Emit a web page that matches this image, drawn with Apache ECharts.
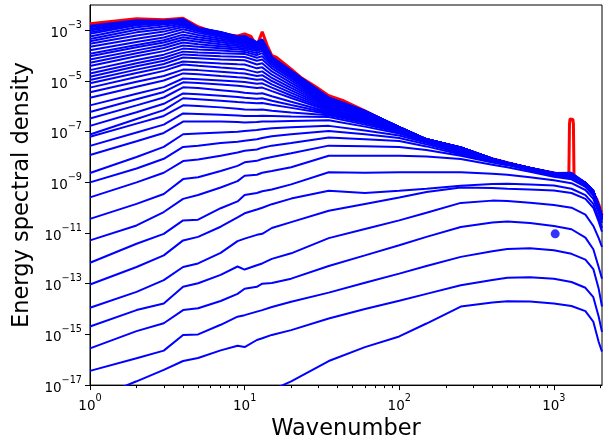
<!DOCTYPE html>
<html><head><meta charset="utf-8">
<script src="https://cdn.jsdelivr.net/npm/echarts@6/dist/echarts.min.js"></script>
<style>html,body{margin:0;padding:0;background:#fff}#c{width:610px;height:446px}</style>
</head><body><div id="c"></div>
<script>
// Wavenumbers at which each blue spectrum is sampled
const wavenumbers = [1, 2, 3, 4, 5, 7, 9, 10, 12, 13, 15, 20, 35, 60, 100, 150, 250, 400, 500, 700, 1000, 1300, 1600, 1800, 1950, 2048];
// log10(energy spectral density), one array per output time (earliest first)
const spec01 = [-20.0, -19.3, -18.9, -18.4, -18.3, -18.0, -17.75, -17.65, -17.45, -17.35, -17.2, -16.85, -16.05, -15.5, -15.08, -14.57, -13.9, -13.74, -13.69, -13.7, -13.78, -13.88, -14.08, -14.5, -15.3, -15.68];
const spec02 = [-17.6, -16.85, -16.4, -16.05, -15.93, -15.63, -15.45, -15.5, -15.22, -15.15, -15.02, -14.83, -14.37, -14.0, -13.67, -13.4, -13.06, -12.85, -12.76, -12.74, -12.8, -12.93, -13.16, -13.53, -14.3, -14.9];
const spec03 = [-16.44, -15.94, -15.64, -15.02, -15.0, -14.62, -14.3, -14.24, -14.1, -14.04, -13.92, -13.71, -13.35, -12.96, -12.6, -12.3, -11.94, -11.72, -11.63, -11.6, -11.68, -11.82, -12.05, -12.42, -13.2, -13.9];
const spec04 = [-15.55, -14.87, -14.56, -14.04, -13.97, -13.68, -13.4, -13.2, -13.12, -13.0, -12.97, -12.8, -12.3, -11.88, -11.48, -11.15, -10.76, -10.58, -10.54, -10.6, -10.72, -10.85, -11.18, -11.64, -12.35, -12.8];
const spec05 = [-14.69, -14.04, -13.78, -13.12, -12.98, -12.65, -12.32, -12.44, -12.27, -12.2, -12.02, -11.8, -11.2, -10.84, -10.5, -10.2, -9.81, -9.72, -9.73, -9.8, -9.89, -10.0, -10.27, -10.72, -11.2, -11.55];
const spec06 = [-13.95, -13.32, -12.86, -12.34, -12.2, -11.78, -11.32, -11.22, -11.07, -11.03, -10.8, -10.57, -10.12, -9.85, -9.6, -9.38, -9.2, -9.22, -9.25, -9.28, -9.32, -9.42, -9.65, -10.0, -10.55, -10.95];
const spec07 = [-13.03, -12.34, -11.88, -11.29, -11.15, -10.75, -10.38, -10.22, -10.07, -10.0, -9.86, -9.64, -9.33, -9.42, -9.33, -9.25, -9.13, -9.06, -9.05, -9.08, -9.12, -9.25, -9.5, -9.85, -10.4, -10.8];
const spec08 = [-12.17, -11.42, -11.03, -10.5, -10.47, -10.02, -9.75, -9.5, -9.42, -9.35, -9.28, -9.08, -8.6, -8.62, -8.6, -8.6, -8.6, -8.66, -8.7, -8.8, -8.92, -9.03, -9.3, -9.65, -10.2, -10.6];
const spec09 = [-11.29, -10.7, -10.17, -9.65, -9.5, -9.2, -8.95, -8.74, -8.7, -8.62, -8.55, -8.4, -7.95, -7.95, -7.95, -7.98, -8.08, -8.3, -8.4, -8.58, -8.78, -8.88, -9.18, -9.52, -10.1, -10.5];
const spec10 = [-10.44, -9.85, -9.46, -8.87, -8.8, -8.55, -8.35, -8.21, -8.15, -8.08, -8.0, -7.85, -7.55, -7.57, -7.6, -7.72, -7.95, -8.22, -8.32, -8.52, -8.74, -8.84, -9.14, -9.48, -10.06, -10.47];
const spec11 = [-9.59, -9.0, -8.62, -8.16, -8.1, -7.95, -7.82, -7.75, -7.7, -7.63, -7.55, -7.45, -7.23, -7.3, -7.37, -7.58, -7.9, -8.19, -8.3, -8.5, -8.72, -8.82, -9.12, -9.46, -10.04, -10.45];
const spec12 = [-9.0, -8.45, -8.07, -7.6, -7.55, -7.45, -7.4, -7.36, -7.3, -7.25, -7.18, -7.1, -6.97, -7.1, -7.25, -7.5, -7.85, -8.17, -8.29, -8.49, -8.71, -8.81, -9.11, -9.45, -10.03, -10.44];
const spec13 = [-8.63, -8.0, -7.6, -7.1, -7.07, -7.03, -7.0, -6.97, -6.93, -6.9, -6.86, -6.82, -6.77, -6.95, -7.15, -7.44, -7.8, -8.15, -8.28, -8.48, -8.7, -8.8, -9.1, -9.44, -10.02, -10.43];
const spec14 = [-7.92, -7.38, -7.05, -6.6, -6.6, -6.6, -6.62, -6.64, -6.62, -6.6, -6.6, -6.58, -6.55, -6.8, -7.07, -7.4, -7.76, -8.13, -8.27, -8.47, -8.7, -8.79, -9.09, -9.43, -10.01, -10.42];
const spec15 = [-7.56, -7.03, -6.72, -6.28, -6.3, -6.33, -6.36, -6.38, -6.38, -6.37, -6.38, -6.4, -6.42, -6.72, -7.02, -7.37, -7.73, -8.12, -8.26, -8.47, -8.69, -8.78, -9.08, -9.42, -10.0, -10.41];
const spec16 = [-7.2, -6.68, -6.38, -5.96, -5.99, -6.04, -6.09, -6.12, -6.13, -6.12, -6.17, -6.24, -6.35, -6.66, -6.98, -7.35, -7.71, -8.11, -8.25, -8.46, -8.69, -8.77, -9.07, -9.41, -9.99, -10.4];
const spec17 = [-7.11, -6.5, -6.15, -5.68, -5.72, -5.78, -5.83, -5.85, -5.88, -5.87, -5.94, -6.06, -6.3, -6.62, -6.95, -7.34, -7.7, -8.1, -8.25, -8.46, -8.68, -8.77, -9.07, -9.41, -9.98, -10.4];
const spec18 = [-6.77, -6.23, -5.9, -5.49, -5.52, -5.58, -5.63, -5.66, -5.7, -5.68, -5.78, -5.95, -6.26, -6.58, -6.93, -7.33, -7.69, -8.1, -8.24, -8.45, -8.68, -8.76, -9.06, -9.4, -9.98, -10.39];
const spec19 = [-6.48, -5.96, -5.65, -5.25, -5.28, -5.36, -5.42, -5.46, -5.5, -5.48, -5.6, -5.82, -6.22, -6.54, -6.91, -7.32, -7.68, -8.09, -8.24, -8.45, -8.67, -8.76, -9.06, -9.4, -9.97, -10.39];
const spec20 = [-6.22, -5.72, -5.43, -5.05, -5.08, -5.14, -5.19, -5.22, -5.28, -5.26, -5.4, -5.67, -6.18, -6.5, -6.9, -7.32, -7.67, -8.09, -8.23, -8.45, -8.67, -8.75, -9.05, -9.39, -9.97, -10.38];
const spec21 = [-5.96, -5.5, -5.24, -4.9, -4.93, -4.98, -5.02, -5.04, -5.11, -5.09, -5.26, -5.57, -6.14, -6.46, -6.89, -7.31, -7.67, -8.09, -8.23, -8.44, -8.66, -8.75, -9.05, -9.39, -9.96, -10.38];
const spec22 = [-5.66, -5.23, -4.98, -4.7, -4.73, -4.8, -4.85, -4.87, -4.95, -4.93, -5.13, -5.47, -6.1, -6.42, -6.88, -7.31, -7.66, -8.08, -8.23, -8.44, -8.66, -8.74, -9.04, -9.38, -9.96, -10.38];
const spec23 = [-5.44, -5.03, -4.8, -4.55, -4.57, -4.63, -4.68, -4.7, -4.8, -4.77, -5.0, -5.37, -6.06, -6.38, -6.87, -7.31, -7.66, -8.08, -8.22, -8.44, -8.66, -8.74, -9.04, -9.38, -9.95, -10.37];
const spec24 = [-5.26, -4.84, -4.6, -4.35, -4.4, -4.47, -4.52, -4.54, -4.66, -4.62, -4.88, -5.27, -6.02, -6.35, -6.86, -7.3, -7.65, -8.08, -8.22, -8.44, -8.65, -8.73, -9.03, -9.37, -9.95, -10.37];
const spec25 = [-5.09, -4.68, -4.46, -4.23, -4.26, -4.31, -4.34, -4.35, -4.5, -4.46, -4.75, -5.17, -5.98, -6.32, -6.85, -7.3, -7.65, -8.08, -8.22, -8.44, -8.65, -8.73, -9.03, -9.37, -9.95, -10.37];
const spec26 = [-4.96, -4.55, -4.33, -4.07, -4.1, -4.15, -4.17, -4.18, -4.35, -4.3, -4.62, -5.07, -5.95, -6.3, -6.85, -7.3, -7.65, -8.08, -8.22, -8.44, -8.65, -8.73, -9.03, -9.37, -9.95, -10.37];
const spec27 = [-4.83, -4.42, -4.2, -3.95, -3.98, -4.02, -4.04, -4.05, -4.2, -4.15, -4.5, -4.98, -5.92, -6.28, -6.84, -7.3, -7.64, -8.08, -8.22, -8.44, -8.65, -8.72, -9.03, -9.37, -9.94, -10.37];
const spec28 = [-4.7, -4.3, -4.08, -3.84, -3.87, -3.9, -3.92, -3.93, -4.08, -4.02, -4.4, -4.9, -5.89, -6.26, -6.84, -7.3, -7.64, -8.08, -8.22, -8.43, -8.65, -8.72, -9.02, -9.36, -9.94, -10.37];
const spec29 = [-4.57, -4.17, -3.96, -3.72, -3.76, -3.8, -3.84, -3.85, -3.98, -3.9, -4.32, -4.84, -5.86, -6.25, -6.84, -7.3, -7.64, -8.08, -8.22, -8.43, -8.64, -8.72, -9.02, -9.36, -9.94, -10.36];
const spec30 = [-4.41, -4.02, -3.82, -3.6, -3.65, -3.71, -3.76, -3.78, -3.9, -3.8, -4.25, -4.78, -5.83, -6.24, -6.83, -7.3, -7.63, -8.08, -8.22, -8.43, -8.64, -8.72, -9.02, -9.36, -9.94, -10.36];
const spec31 = [-4.28, -3.9, -3.7, -3.48, -3.55, -3.63, -3.69, -3.72, -3.82, -3.72, -4.2, -4.73, -5.8, -6.23, -6.83, -7.3, -7.63, -8.08, -8.22, -8.43, -8.64, -8.71, -9.02, -9.36, -9.94, -10.36];
const spec32 = [-4.15, -3.79, -3.59, -3.37, -3.45, -3.55, -3.62, -3.66, -3.76, -3.66, -4.16, -4.7, -5.78, -6.22, -6.83, -7.3, -7.63, -8.07, -8.22, -8.43, -8.64, -8.71, -9.02, -9.36, -9.94, -10.36];
const spec33 = [-4.02, -3.67, -3.48, -3.27, -3.36, -3.47, -3.56, -3.6, -3.7, -3.6, -4.14, -4.68, -5.76, -6.21, -6.83, -7.3, -7.63, -8.07, -8.22, -8.43, -8.64, -8.71, -9.02, -9.35, -9.93, -10.36];
const spec34 = [-3.92, -3.58, -3.39, -3.17, -3.27, -3.4, -3.5, -3.55, -3.66, -3.55, -4.13, -4.67, -5.74, -6.21, -6.82, -7.3, -7.63, -8.07, -8.22, -8.43, -8.64, -8.71, -9.02, -9.35, -9.93, -10.36];
const spec35 = [-3.79, -3.46, -3.28, -3.06, -3.18, -3.33, -3.46, -3.5, -3.62, -3.51, -4.12, -4.67, -5.72, -6.2, -6.82, -7.3, -7.62, -8.07, -8.22, -8.43, -8.64, -8.7, -9.02, -9.35, -9.93, -10.36];
const spec36 = [-3.65, -3.33, -3.16, -2.96, -3.1, -3.26, -3.42, -3.46, -3.59, -3.48, -4.11, -4.66, -5.71, -6.2, -6.82, -7.3, -7.62, -8.07, -8.22, -8.43, -8.63, -8.7, -9.02, -9.35, -9.93, -10.36];
const spec37 = [-3.53, -3.2, -3.05, -2.87, -3.04, -3.21, -3.39, -3.42, -3.57, -3.46, -4.1, -4.65, -5.7, -6.2, -6.82, -7.3, -7.62, -8.07, -8.22, -8.43, -8.63, -8.7, -9.02, -9.35, -9.93, -10.36];
const spec38 = [-3.43, -3.08, -2.95, -2.8, -3.0, -3.17, -3.36, -3.39, -3.55, -3.44, -4.09, -4.64, -5.69, -6.2, -6.82, -7.3, -7.62, -8.07, -8.22, -8.43, -8.63, -8.7, -9.02, -9.35, -9.93, -10.36];
const spec39 = [-3.34, -2.98, -2.85, -2.74, -2.98, -3.14, -3.34, -3.36, -3.54, -3.43, -4.08, -4.63, -5.69, -6.19, -6.82, -7.3, -7.62, -8.07, -8.22, -8.43, -8.63, -8.7, -9.02, -9.35, -9.93, -10.36];
const spec40 = [-3.24, -2.88, -2.77, -2.69, -2.96, -3.12, -3.32, -3.34, -3.53, -3.42, -4.08, -4.63, -5.68, -6.19, -6.82, -7.3, -7.62, -8.07, -8.22, -8.43, -8.63, -8.69, -9.02, -9.35, -9.93, -10.36];
const spec41 = [-3.14, -2.8, -2.72, -2.66, -2.95, -3.11, -3.3, -3.32, -3.52, -3.41, -4.07, -4.62, -5.68, -6.19, -6.82, -7.3, -7.62, -8.07, -8.22, -8.43, -8.63, -8.69, -9.02, -9.35, -9.93, -10.36];
const spec42 = [-3.08, -2.75, -2.69, -2.63, -2.94, -3.1, -3.28, -3.3, -3.51, -3.4, -4.07, -4.62, -5.67, -6.19, -6.82, -7.3, -7.62, -8.07, -8.22, -8.43, -8.63, -8.68, -9.02, -9.35, -9.93, -10.36];
const spec43 = [-3.01, -2.71, -2.67, -2.61, -2.93, -3.09, -3.27, -3.28, -3.5, -3.39, -4.06, -4.61, -5.67, -6.19, -6.82, -7.3, -7.62, -8.07, -8.22, -8.43, -8.63, -8.68, -9.02, -9.35, -9.93, -10.36];
const spec44 = [-2.95, -2.67, -2.65, -2.59, -2.92, -3.08, -3.26, -3.26, -3.49, -3.38, -4.06, -4.61, -5.66, -6.19, -6.82, -7.3, -7.62, -8.07, -8.22, -8.43, -8.63, -8.67, -9.02, -9.35, -9.93, -10.36];
const spec45 = [-2.88, -2.63, -2.63, -2.57, -2.91, -3.07, -3.25, -3.24, -3.48, -3.37, -4.05, -4.6, -5.66, -6.18, -6.82, -7.3, -7.62, -8.07, -8.22, -8.43, -8.63, -8.65, -9.02, -9.35, -9.93, -10.36];
const spec46 = [-2.82, -2.6, -2.62, -2.55, -2.9, -3.06, -3.24, -3.22, -3.47, -3.36, -4.05, -4.6, -5.65, -6.18, -6.82, -7.3, -7.62, -8.07, -8.22, -8.43, -8.63, -8.62, -9.02, -9.35, -9.93, -10.36];

// Final (red) spectrum, with its own wavenumber samples
const redWavenumbers = [1, 2, 3, 4, 5, 6, 7, 8, 9, 10, 11, 12, 13, 14, 15, 16, 20, 23, 29, 35, 44, 60, 89, 146, 265, 404, 659, 1085, 1250, 1262, 1272, 1290, 1310, 1328, 1338, 1350, 1460, 1740, 1890, 1990, 2048];
const redLog = [-2.74, -2.54, -2.58, -2.52, -2.86, -3.02, -3.1, -3.18, -3.22, -3.14, -3.24, -3.62, -3.06, -3.6, -4.0, -4.06, -4.53, -4.85, -5.24, -5.58, -5.79, -6.18, -6.71, -7.29, -7.72, -8.08, -8.41, -8.67, -8.73, -6.7, -6.5, -6.48, -6.49, -6.52, -6.7, -8.76, -8.93, -9.33, -9.65, -10.0, -10.3];

// Single blue marker (wavenumber, log10 value)
const markerK = [1020];
const markerLog = [-11.03];

// Axis ticks
const xMajorTicks = [1, 10, 100, 1000];
const xMinorTicks = [2, 3, 4, 5, 6, 7, 8, 9, 20, 30, 40, 50, 60, 70, 80, 90, 200, 300, 400, 500, 600, 700, 800, 900, 2000];
const yMajorTicks = [1e-17, 1e-15, 1e-13, 1e-11, 1e-9, 1e-7, 1e-5, 1e-3];

const blueSpectra = [spec01, spec02, spec03, spec04, spec05, spec06, spec07, spec08, spec09, spec10,
  spec11, spec12, spec13, spec14, spec15, spec16, spec17, spec18, spec19, spec20,
  spec21, spec22, spec23, spec24, spec25, spec26, spec27, spec28, spec29, spec30,
  spec31, spec32, spec33, spec34, spec35, spec36, spec37, spec38, spec39, spec40,
  spec41, spec42, spec43, spec44, spec45, spec46];

const toPairs = (ks, logs) => ks.map((k, i) => [k, Math.pow(10, logs[i])]);

const FONT = 'DejaVu Sans';
function powLabel(v) {
  const e = Math.round(Math.log10(v));
  return '{b|10}{s|' + (e < 0 ? '\u2212' : '') + Math.abs(e) + '}';
}
const richLab = {
  b: { fontFamily: FONT, fontSize: 13.5, color: '#000', lineHeight: 20, verticalAlign: 'bottom' },
  s: { fontFamily: FONT, fontSize: 9.7, color: '#000', lineHeight: 12, verticalAlign: 'top' }
};

const series = [];
series.push({
  type: 'line', xAxisIndex: 0, yAxisIndex: 0, data: toPairs(redWavenumbers, redLog),
  showSymbol: false, symbol: 'none', lineStyle: { color: '#ff0000', width: 3 }, z: 2, silent: true
});
blueSpectra.forEach(arr => {
  series.push({
    type: 'line', xAxisIndex: 0, yAxisIndex: 0, data: toPairs(wavenumbers, arr),
    showSymbol: false, symbol: 'none', lineStyle: { color: '#0000ff', width: 2 }, z: 3, silent: true
  });
});
series.push({
  type: 'scatter', xAxisIndex: 0, yAxisIndex: 0, data: toPairs(markerK, markerLog),
  symbolSize: 9, itemStyle: { color: '#0000ff' }, z: 4, silent: true
});

const chart = echarts.init(document.getElementById('c'), null, { renderer: 'canvas' });
chart.setOption({
  animation: false,
  backgroundColor: '#fff',
  textStyle: { fontFamily: FONT },
  grid: { left: 90, right: 8, top: 5, bottom: 59, show: true, borderColor: '#000', borderWidth: 1, backgroundColor: 'transparent', containLabel: false },
  xAxis: [{
    type: 'log', logBase: 10, min: 1, max: 2048, position: 'bottom',
    name: 'Wavenumber', nameLocation: 'middle', nameGap: 27,
    nameTextStyle: { fontFamily: FONT, fontSize: 22.5, color: '#000' },
    axisLine: { show: true, lineStyle: { color: '#000', width: 1 } },
    axisTick: { show: true, inside: false, length: 5, lineStyle: { color: '#000', width: 1 }, customValues: xMajorTicks },
    axisLabel: { show: true, margin: 8, customValues: xMajorTicks, formatter: powLabel, rich: richLab },
    splitLine: { show: false }, minorTick: { show: false }
  }, {
    type: 'log', logBase: 10, min: 1, max: 2048, position: 'bottom', offset: 0,
    axisLine: { show: false },
    axisTick: { show: true, inside: false, length: 3, lineStyle: { color: '#000', width: 1 }, customValues: xMinorTicks },
    axisLabel: { show: false },
    splitLine: { show: false }
  }],
  yAxis: [{
    type: 'log', logBase: 10, min: 1e-17, max: 1e-2,
    name: 'Energy spectral density', nameLocation: 'middle', nameGap: 56, nameRotate: 90,
    nameTextStyle: { fontFamily: FONT, fontSize: 22.5, color: '#000' },
    axisLine: { show: true, lineStyle: { color: '#000', width: 1 } },
    axisTick: { show: true, inside: false, length: 5, lineStyle: { color: '#000', width: 1 }, customValues: yMajorTicks },
    axisLabel: { show: true, margin: 8, customValues: yMajorTicks, formatter: powLabel, rich: richLab },
    splitLine: { show: false }, minorTick: { show: false }
  }],
  series: series
});
</script>
</body></html>
